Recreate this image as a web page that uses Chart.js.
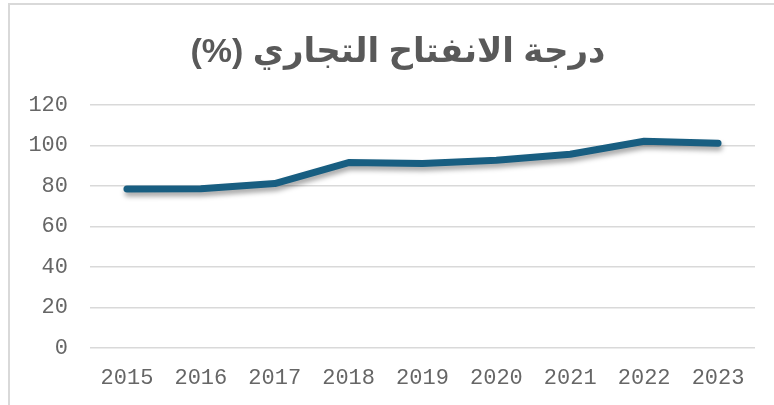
<!DOCTYPE html>
<html>
<head>
<meta charset="utf-8">
<script src="https://cdn.jsdelivr.net/npm/chart.js@4"></script>
<style>
  html, body { margin: 0; padding: 0; background: #fff; }
  #frame {
    position: absolute; left: 8px; top: 3px; right: 0; bottom: 0;
    border-top: 2px solid #d9d9d9; border-left: 2px solid #d9d9d9;
  }
  #title {
    position: absolute; left: 0; right: 0; top: 30px;
    padding-left: 22px;
    text-align: center;
    font: bold 34px/40px 'Liberation Sans', 'DejaVu Sans', sans-serif;
    color: #595959;
    white-space: nowrap;
  }
</style>
</head>
<body>
<div id="frame"><canvas id="opennessChart"></canvas></div>
<div id="title" dir="rtl"></div>
<script>
// trade openness, % of GDP
var years = ["2015", "2016", "2017", "2018", "2019", "2020", "2021", "2022", "2023"];
var openness = [78.5, 78.6, 81.2, 91.6, 91.1, 92.7, 95.7, 102.1, 101.1];
var yTicks = [0, 20, 40, 60, 80, 100, 120];
var chartTitle = "درجة الانفتاح التجاري (%)";

document.getElementById('title').textContent = chartTitle;

// soft drop shadow under the line
var lineShadow = {
    id: 'lineShadow',
    beforeDatasetsDraw: function(chart) {
        var ctx = chart.ctx;
        ctx.save();
        ctx.shadowColor = 'rgba(0, 0, 0, 0.35)';
        ctx.shadowBlur = 5;
        ctx.shadowOffsetX = 1;
        ctx.shadowOffsetY = 4;
    },
    afterDatasetsDraw: function(chart) {
        chart.ctx.restore();
    }
};

var tickFont = { family: "'Liberation Mono', 'Courier New', monospace", size: 22 };

var ctx = document.getElementById('opennessChart').getContext('2d');
var opennessChart = new Chart(ctx, {
    type: 'line',
    data: {
        labels: years,
        datasets: [{
            data: openness,
            borderColor: '#185e81',
            borderWidth: 7,
            borderCapStyle: 'round',
            borderJoinStyle: 'round',
            pointRadius: 0,
            fill: false,
            tension: 0
        }]
    },
    options: {
        responsive: true,
        maintainAspectRatio: false,
        animation: false,
        layout: { padding: { left: 0, right: 19, top: 100, bottom: 0 } },
        scales: {
            x: {
                offset: true,
                grid: { display: false, drawTicks: false },
                border: { display: false },
                ticks: {
                    color: '#666666',
                    padding: 17,
                    maxRotation: 0,
                    font: tickFont
                },
                afterFit: function(s) { s.height = 57; }
            },
            y: {
                min: 0,
                max: 120,
                afterBuildTicks: function(s) {
                    s.ticks = yTicks.map(function(v) { return { value: v }; });
                },
                grid: { color: '#d9d9d9', lineWidth: 1.5, drawTicks: false },
                border: { display: false },
                ticks: {
                    color: '#666666',
                    padding: 22,
                    font: tickFont
                },
                afterFit: function(s) { s.width = 80; }
            }
        },
        plugins: {
            legend: { display: false },
            tooltip: { enabled: false },
            title: { display: false }
        }
    },
    plugins: [lineShadow]
});
</script>
</body>
</html>
